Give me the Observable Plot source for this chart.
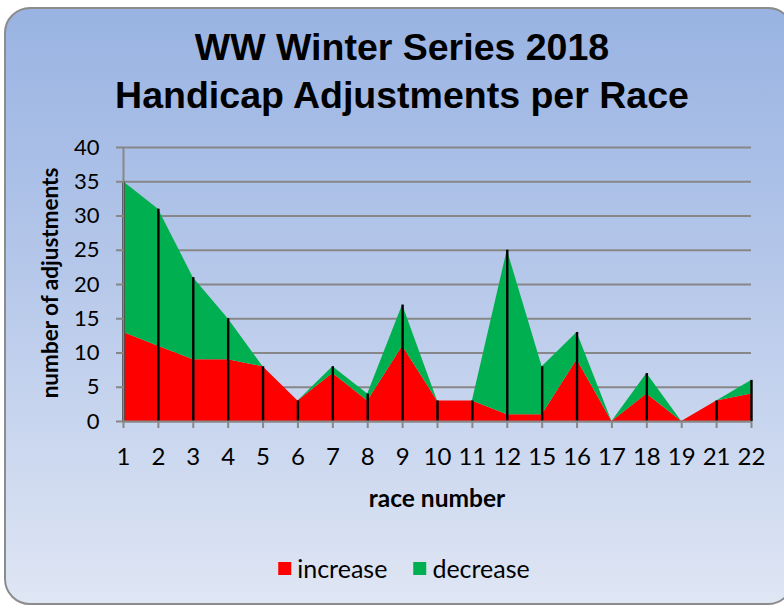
<!DOCTYPE html>
<html>
<head>
<meta charset="utf-8">
<script src="https://cdn.jsdelivr.net/npm/d3@7"></script>
<script src="https://cdn.jsdelivr.net/npm/@observablehq/plot@0.6"></script>
<style>
  html, body { margin:0; padding:0; width:784px; height:607px; overflow:hidden; background:#ffffff; }
  #wrap { position:relative; width:784px; height:607px; overflow:hidden; }
  #frame { position:absolute; left:4px; top:7px; width:790px; height:598px; border:2px solid #8c8c8c; border-radius:26px;
           background:linear-gradient(to bottom, #99b3e2 0%, #b6c8ea 45%, #dfe6f4 100%); box-sizing:border-box; }
  #title { position:absolute; left:4px; width:796px; top:23px; text-align:center; font-family:"Liberation Sans", Arial, sans-serif;
           font-weight:bold; font-size:37.5px; line-height:48px; color:#000; }
  #ylab { position:absolute; left:49px; top:283px; transform:translate(-50%,-50%) rotate(-90deg); white-space:nowrap;
          font-family:Lato, sans-serif; font-weight:bold; font-size:22.5px; color:#000; }
  #xlab { position:absolute; left:437px; top:497px; transform:translate(-50%,-50%); white-space:nowrap;
          font-family:Lato, sans-serif; font-weight:bold; font-size:24.5px; color:#000; }
  #legend { position:absolute; left:404px; top:568px; transform:translate(-50%,-50%); white-space:nowrap;
            font-family:Lato, sans-serif; font-size:25px; color:#000; display:flex; align-items:center; }
  #legend .sw { display:inline-block; width:13px; height:13px; margin-right:6px; }
  #legend .item { display:flex; align-items:center; margin:0 13px; }
  #chart { position:absolute; left:0; top:130px; }
</style>
</head>
<body>
<div id="wrap">
  <div id="frame"></div>
  <div id="title">WW Winter Series 2018<br>Handicap Adjustments per Race</div>
  <div id="chart"></div>
  <div id="ylab">number of adjustments</div>
  <div id="xlab">race number</div>
  <div id="legend"></div>
</div>
<script>
const races = ["1","2","3","4","5","6","7","8","9","10","11","12","15","16","17","18","19","21","22"];
const increase = [13,11,9,9,8,3,7,3,11,3,3,1,1,9,0,4,0,3,4];
const decrease = [22,20,12,6,0,0,1,1,6,0,0,24,7,4,0,3,0,0,2];
const yTicks = [0,5,10,15,20,25,30,35,40];
const seriesNames = ["increase","decrease"];
const seriesColors = ["#ff0000","#00b050"];

const data = races.map((r, i) => ({race: r, inc: increase[i], total: increase[i] + decrease[i]}));
const gray = "#878787";

const chart = Plot.plot({
  width: 784,
  height: 390,
  marginLeft: 123,
  marginRight: 33,
  marginTop: 17,
  marginBottom: 99,
  style: {background: "transparent", fontFamily: "Lato, sans-serif", overflow: "visible"},
  x: {type: "point", domain: races, padding: 0, round: false},
  y: {domain: [0, 40]},
  marks: [
    Plot.gridY(yTicks, {stroke: gray, strokeOpacity: 1, strokeWidth: 2}),
    Plot.areaY(data, {x: "race", y1: 0, y2: "inc", fill: seriesColors[0]}),
    Plot.areaY(data, {x: "race", y1: "inc", y2: "total", fill: seriesColors[1]}),
    Plot.ruleX(data, {x: "race", y1: 0, y2: "total", stroke: "black", strokeWidth: 2.4}),
    Plot.ruleY([0], {stroke: gray, strokeWidth: 2}),
    Plot.ruleX([races[0]], {y1: 0, y2: 40, stroke: gray, strokeWidth: 2}),
    Plot.axisY(yTicks, {tickSize: 7, tickPadding: 17, stroke: gray, strokeWidth: 2, fill: "black", fontSize: 22, label: null}),
    Plot.axisX({tickSize: 7, tickPadding: 19, stroke: gray, strokeWidth: 2, fill: "black", fontSize: 24, label: null})
  ]
});
document.getElementById("chart").appendChild(chart);

const legend = document.getElementById("legend");
seriesNames.forEach((n, i) => {
  const item = document.createElement("span");
  item.className = "item";
  const sw = document.createElement("span");
  sw.className = "sw";
  sw.style.background = seriesColors[i];
  item.appendChild(sw);
  item.appendChild(document.createTextNode(n));
  legend.appendChild(item);
});
</script>
</body>
</html>
